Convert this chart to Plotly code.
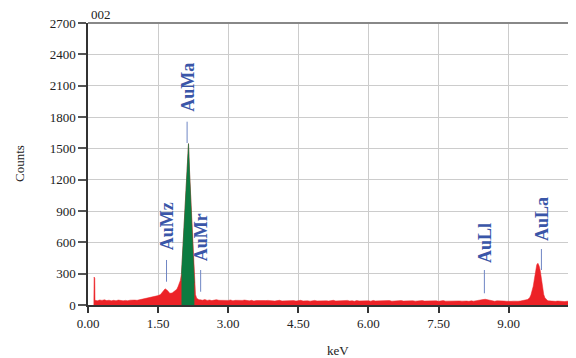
import numpy as np
import plotly.graph_objects as go

# ---- data (keV, counts) ----
spike_e = [0.125, 0.13, 0.145, 0.15]
spike_c = [0, 268, 255, 45]

seg1_e = np.round(np.arange(0.20, 1.851, 0.05), 3)
seg1_c = [40, 48, 44, 50, 42, 46, 40, 45, 41, 47, 43, 40, 44, 41, 46, 43, 47, 45,
          50, 53, 57, 60, 64, 70, 76, 82, 90, 100, 130, 155, 140, 112, 115, 130]

ma_e = np.round(np.arange(1.90, 2.376, 0.025), 3)
ma_c = [150, 175, 200, 235, 300, 520, 700, 1000, 1220, 1450, 1545, 1250, 1000, 720,
        480, 210, 100, 65, 55, 50]

mid_e = np.round(np.arange(2.40, 9.351, 0.05), 3)
mid_c = [50, 46, 52, 44, 48, 42, 47, 51, 45, 43,
         46, 41, 44, 48, 40, 45, 43, 39, 44, 47,
         42, 40, 45, 38, 43, 41, 46, 39, 42, 44,
         40, 43, 38, 42, 45, 39, 41, 37, 44, 40,
         42, 38, 41, 45, 39, 43, 40, 37, 42, 44,
         39, 41, 36, 43, 40, 38, 42, 45, 39, 41,
         37, 42, 40, 44, 38, 41, 36, 43, 39, 40,
         42, 38, 41, 37, 44, 39, 40, 36, 42, 38,
         40, 43, 37, 39, 41, 36, 42, 38, 40, 35,
         39, 41, 37, 40, 36, 42, 38, 39, 35, 41,
         37, 40, 36, 39, 42, 37, 38, 35, 40, 38,
         36, 39, 37, 41, 38, 35, 40, 37, 39, 42,
         46, 52, 55, 49, 43, 38, 36, 40, 37, 35,
         38, 36, 39, 35, 37, 40, 36, 38, 42, 48]

la_e = np.round(np.arange(9.40, 9.976, 0.025), 3)
la_c = [52, 60, 72, 95, 130, 180, 250, 320, 385, 400, 375, 330, 240, 160, 100, 70,
        52, 45, 40, 38, 41, 36, 39, 37]

hi_e = np.round(np.arange(10.00, 10.451, 0.05), 3)
hi_c = [35, 38, 34, 37, 33, 36, 35, 32, 34, 33]

energy = np.concatenate([spike_e, seg1_e, ma_e, mid_e, la_e, hi_e])
counts = np.concatenate([spike_c, seg1_c, ma_c, mid_c, la_c, hi_c])

green_lo, green_hi = 2.0, 2.275

peak_labels = ["AuMz", "AuMa", "AuMr", "AuLl", "AuLa"]
peak_energy = [1.68, 2.12, 2.41, 8.48, 9.70]
label_center = [750, 2082, 646, 598, 828]
line_top = [431, 1755, 335, 335, 536]
line_bottom = [223, 1551, 127, 112, 335]

x_ticks = [0, 1.5, 3, 4.5, 6, 7.5, 9]
y_ticks = list(range(0, 2701, 300))

# ---- figure ----
fig = go.Figure()
fig.add_trace(go.Scatter(x=energy, y=counts, mode="lines", fill="tozeroy",
                         line=dict(width=0.5, color="#ec2227"),
                         fillcolor="#ec2227", hoverinfo="skip"))
mask = (energy >= green_lo - 1e-9) & (energy <= green_hi + 1e-9)
fig.add_trace(go.Scatter(x=energy[mask], y=counts[mask], mode="lines", fill="tozeroy",
                         line=dict(width=0.5, color="#0c7b40"),
                         fillcolor="#0c7b40", hoverinfo="skip"))

blue = "#3a56a8"
for lab, e, c, t, b in zip(peak_labels, peak_energy, label_center, line_top, line_bottom):
    fig.add_annotation(x=e, y=c, text="<b>" + lab + "</b>", showarrow=False,
                       textangle=-90, xanchor="center", yanchor="middle",
                       font=dict(family="Liberation Serif", size=18, color=blue))
    fig.add_shape(type="line", x0=e, x1=e, y0=b, y1=t,
                  line=dict(color="#6f86c4", width=1))

serif = "Liberation Serif"
# plot area: 80..568 x 15..297 in figure px (page is offset by 8 px body margin)
L, T, W, H = 80, 15, 488, 282
fig.add_annotation(xref="paper", yref="paper", x=0, y=1, xshift=2, yshift=0, text="002",
                   showarrow=False, xanchor="left", yanchor="bottom", borderpad=0,
                   font=dict(family=serif, size=13, color="#222"))
fig.add_annotation(xref="paper", yref="paper", x=(338 - 88) / W, y=-(350 - 305) / H,
                   text="keV", showarrow=False, xanchor="center", yanchor="middle",
                   font=dict(family=serif, size=13, color="#222"))
fig.add_annotation(xref="paper", yref="paper", x=-(88 - 19) / W, y=0.5,
                   text="Counts", showarrow=False, textangle=-90,
                   xanchor="center", yanchor="middle",
                   font=dict(family=serif, size=13, color="#222"))

# top border
fig.add_shape(type="line", xref="paper", yref="paper", x0=0, x1=1, y0=1, y1=1,
              line=dict(color="#888", width=2))

fig.update_layout(
    width=576, height=358,
    margin=dict(l=L, r=576 - L - W, t=T, b=358 - T - H),
    paper_bgcolor="white", plot_bgcolor="white",
    showlegend=False,
    font=dict(family=serif, size=13, color="#222"),
    xaxis=dict(range=[0, 10.44], tickvals=x_ticks,
               ticktext=[f"{v:.2f}" for v in x_ticks],
               showgrid=True, gridcolor="#cccccc", gridwidth=1,
               showline=True, linecolor="#333", linewidth=1.5,
               ticks="outside", ticklen=6, tickcolor="#333", tickwidth=1.5,
               zeroline=False, tickfont=dict(family=serif, size=13, color="#222")),
    yaxis=dict(range=[0, 2700], tickvals=y_ticks,
               ticktext=[str(v) for v in y_ticks],
               showgrid=True, gridcolor="#cccccc", gridwidth=1,
               showline=True, linecolor="#333", linewidth=1.5,
               ticks="outside", ticklen=8, tickcolor="#555", tickwidth=1.5,
               zeroline=False, tickfont=dict(family=serif, size=13, color="#222")),
)

fig.write_html("out.html")
